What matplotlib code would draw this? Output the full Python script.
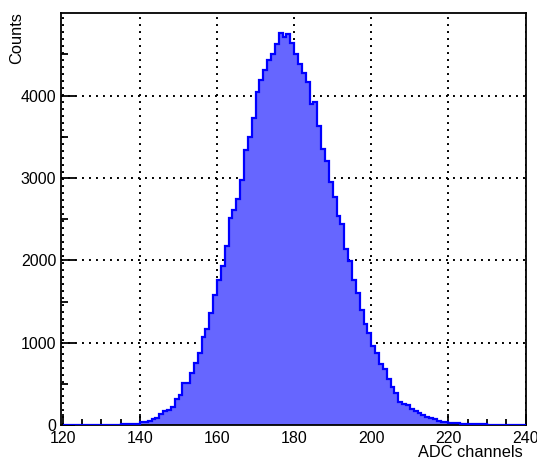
import numpy as np
import matplotlib.pyplot as plt

# bin edges: one ADC channel per bin, 120..240
edges = np.arange(120, 241)
counts = [
    0, 0, 0, 0, 0, 0, 0, 0, 0, 0,                       # 120-129
    0, 2, 5, 6, 8, 10, 12, 14, 18, 22,                  # 130-139
    40, 45, 48, 82, 88, 137, 172, 180, 218, 315,        # 140-149
    364, 509, 516, 630, 752, 880, 1067, 1172, 1358, 1575,   # 150-159
    1761, 1927, 2173, 2509, 2618, 2751, 2973, 3337, 3502, 3727,  # 160-169
    4040, 4185, 4315, 4428, 4509, 4630, 4760, 4710, 4750, 4638,  # 170-179
    4509, 4388, 4274, 4165, 3900, 3920, 3628, 3358, 3207, 2953,  # 180-189
    2771, 2537, 2448, 2145, 1990, 1761, 1607, 1398, 1228, 1115,  # 190-199
    965, 873, 743, 679, 558, 468, 395, 286, 262, 245,   # 200-209
    194, 173, 153, 125, 104, 85, 73, 56, 44, 36,        # 210-219
    30, 28, 25, 22, 20, 18, 15, 14, 12, 10,             # 220-229
    9, 8, 7, 6, 5, 4, 3, 2, 0, 0,                       # 230-239
]

xticks = list(range(120, 241, 20))
yticks = list(range(0, 4001, 1000))

fill_color = '#6666ff'
line_color = '#0000ff'

plt.rcParams['font.family'] = ['Liberation Sans', 'DejaVu Sans']

W, H = 537, 461
fig = plt.figure(figsize=(W / 100, H / 100), dpi=100)
ax = fig.add_axes([0.1127, 0.0774, 0.8659, 0.8937])

ax.stairs(counts, edges, fill=True, color=fill_color, zorder=2)
ax.stairs(counts, edges, color=line_color, lw=1.6, zorder=3)

ax.set_xlim(119.4, 240)
ax.set_ylim(0, max(counts) * 1.05)

ax.set_xticks(xticks)
ax.set_xticks(range(120, 241, 5), minor=True)
ax.set_yticks(yticks)
ax.set_yticks(range(0, 5000, 500), minor=True)

ax.set_axisbelow(True)
ax.grid(True, which='major', color='black', linestyle=(0, (1, 2.6)), lw=1.4)

ax.tick_params(axis='x', which='major', direction='in', length=8, width=1.3,
               labelsize=11.5, pad=4)
ax.tick_params(axis='x', which='minor', direction='in', length=4, width=1.3)
ax.tick_params(axis='y', which='major', direction='in', length=10, width=1.3,
               labelsize=11.5, pad=3)
ax.tick_params(axis='y', which='minor', direction='in', length=5, width=1.3)

for s in ax.spines.values():
    s.set_linewidth(1.3)

# axis titles, ROOT style: right/top aligned
fig.text(523 / W, 1 - 445 / H, 'ADC channels', ha='right', va='top', fontsize=11.8)
fig.text(17 / W, 1 - 12 / H, 'Counts', rotation=90, ha='center', va='top', fontsize=11.8)

fig.savefig('out.png', dpi=100)
